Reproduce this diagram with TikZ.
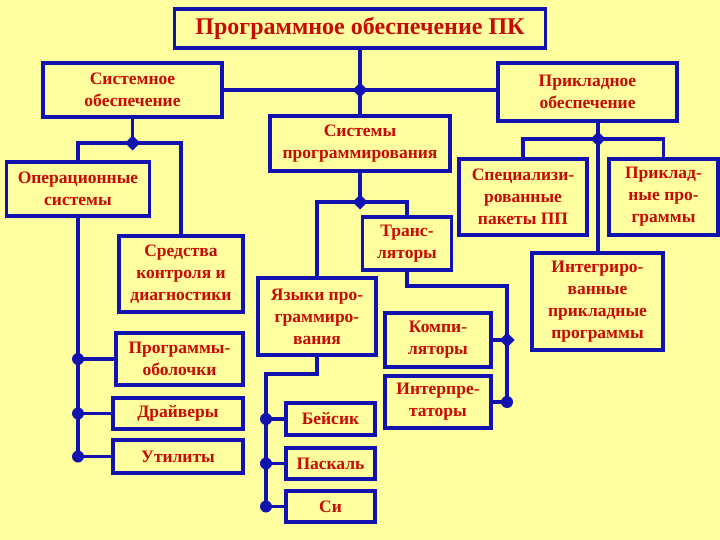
\documentclass[tikz,border=0pt]{standalone}
\usepackage{fontspec}
\setmainfont{Liberation Serif}
\definecolor{bgc}{RGB}{255,255,160}
\definecolor{ln}{RGB}{18,18,175}
\definecolor{tx}{RGB}{200,10,0}
\newcommand\jdia[1]{\fill[ln] (#1) +(-7.5pt,0) -- +(0,-7.5pt) -- +(7.5pt,0) -- +(0,7.5pt) -- cycle;}
\newcommand\jdot[1]{\fill[ln] (#1) circle (6pt);}
\begin{document}
\begin{tikzpicture}[x=1pt,y=-1pt,
  box/.style={draw=ln, line width=3.5pt, fill=bgc, text=tx,
    font=\bfseries\fontsize{17.5}{22}\selectfont, align=center, inner sep=0pt},
  wire/.style={draw=ln, line width=3.5pt}]
\fill[bgc] (0,0) rectangle (720,540);
\useasboundingbox (0,0) rectangle (720,540);
% boxes
\node[box, minimum width=371pt, minimum height=39pt, font=\bfseries\fontsize{24}{28}\selectfont] (title) at (360,28.5) {Программное обеспечение ПК};
\node[box, minimum width=179pt, minimum height=54pt] (sys) at (132.5,90) {Системное\\обеспечение};
\node[box, minimum width=179pt, minimum height=58pt] (app) at (587.5,92) {Прикладное\\обеспечение};
\node[box, minimum width=180pt, minimum height=55pt] (prog) at (360,143.5) {Системы\\программирования};
\node[box, minimum width=89pt, minimum height=53pt] (trans) at (407,243.5) {Транс-\\ляторы};
\node[box, minimum width=106pt, minimum height=54pt] (comp) at (438,340) {Компи-\\ляторы};
\node[box, minimum width=106pt, minimum height=52pt] (interp) at (438,402) {Интерпре-\\таторы};
\node[box, minimum width=118pt, minimum height=77pt] (lang) at (317,316.5) {Языки про-\\граммиро-\\вания};
\node[box, minimum width=89pt, minimum height=32pt] (basic) at (330.5,419) {Бейсик};
\node[box, minimum width=89pt, minimum height=31pt] (pascal) at (330.5,463.5) {Паскаль};
\node[box, minimum width=89pt, minimum height=31pt] (cc) at (330.5,506.5) {Си};
\node[box, minimum width=143pt, minimum height=54pt] (os) at (78,189) {Операционные\\системы};
\node[box, minimum width=124pt, minimum height=76pt] (diag) at (181,274) {Средства\\контроля и\\диагностики};
\node[box, minimum width=127pt, minimum height=52pt] (shell) at (179.5,359) {Программы-\\оболочки};
\node[box, minimum width=130pt, minimum height=31pt] (drv) at (178,413.5) {Драйверы};
\node[box, minimum width=130pt, minimum height=33pt] (util) at (178,456.5) {Утилиты};
\node[box, minimum width=128pt, minimum height=76pt] (spec) at (523,197) {Специализи-\\рованные\\пакеты ПП};
\node[box, minimum width=109pt, minimum height=76pt] (appprog) at (663.5,197) {Приклад-\\ные про-\\граммы};
\node[box, minimum width=131pt, minimum height=97pt] (integ) at (597.5,301.5) {Интегриро-\\ванные\\прикладные\\программы};
% junction coordinates
\coordinate (j1) at (360,90);
\coordinate (j2) at (132.5,143);
\coordinate (j3) at (360,202);
\coordinate (j4) at (598,139);
\coordinate (tb) at (507,286);
\coordinate (lb) at (266,374);
% connectors
\draw[wire] (title.south) -- (prog.north);
\draw[wire] (sys.east) -- (sys.east -| app.west);
\draw[wire] (sys.south) -- (j2);
\draw[wire] (os.north) |- (j2) -| (diag.north);
\draw[wire] (os.south) -- (os.south |- util.west);
\draw[wire] (os.south |- shell.west) -- (shell.west);
\draw[wire] (os.south |- drv.west) -- (drv.west);
\draw[wire] (os.south |- util.west) -- (util.west);
\draw[wire] (prog.south) -- (j3);
\draw[wire] (lang.north) |- (j3) -| (trans.north);
\draw[wire] (trans.south) |- (tb) -- (tb |- interp.east);
\draw[wire] (comp.east) -- (tb |- comp.east);
\draw[wire] (interp.east) -- (tb |- interp.east);
\draw[wire] (lang.south) |- (lb) -- (lb |- cc.west);
\draw[wire] (lb |- basic.west) -- (basic.west);
\draw[wire] (lb |- pascal.west) -- (pascal.west);
\draw[wire] (lb |- cc.west) -- (cc.west);
\draw[wire] (j4 |- app.south) -- (j4) -- (j4 |- integ.north);
\draw[wire] (spec.north) |- (j4) -| (appprog.north);
% junction marks
\jdia{j1}
\jdia{j2}
\jdia{j3}
\jdia{j4}
\jdia{tb |- comp.east}
\jdot{tb |- interp.east}
\jdot{os.south |- shell.west}
\jdot{os.south |- drv.west}
\jdot{os.south |- util.west}
\jdot{lb |- basic.west}
\jdot{lb |- pascal.west}
\jdot{lb |- cc.west}
\end{tikzpicture}
\end{document}
